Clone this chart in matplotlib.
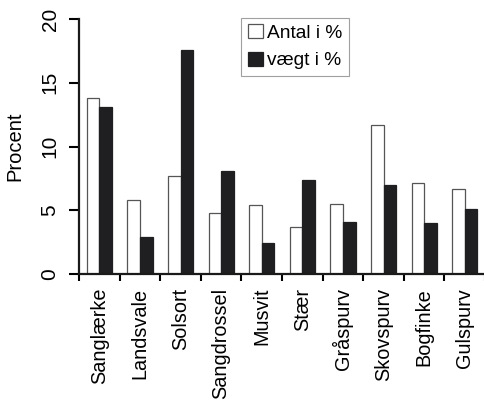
import matplotlib
matplotlib.use("Agg")
import matplotlib.pyplot as plt
import numpy as np

plt.rcParams['font.family'] = ['Liberation Sans', 'DejaVu Sans']

categories = ["Sanglærke", "Landsvale", "Solsort", "Sangdrossel", "Musvit",
              "Stær", "Gråspurv", "Skovspurv", "Bogfinke", "Gulspurv"]
antal = [13.8, 5.8, 7.7, 4.8, 5.4, 3.7, 5.5, 11.7, 7.1, 6.7]
vaegt = [13.1, 2.9, 17.6, 8.1, 2.4, 7.4, 4.1, 7.0, 4.0, 5.1]
yticks = [0, 5, 10, 15, 20]

fig = plt.figure(figsize=(4.85, 4.0), dpi=100)
ax = fig.add_axes([0.163, 0.315, 0.837, 0.6375])

x = np.arange(len(categories))
w = 0.31
ax.bar(x - w/2, antal, w, color='white', edgecolor='#555555', linewidth=0.9, label='Antal i %')
ax.bar(x + w/2, vaegt, w, color='#1f1f22', edgecolor='#1f1f22', linewidth=0.9, label='vægt i %')

ax.set_xlim(-0.5, len(categories) - 0.5)
ax.set_ylim(0, 20)
for s in ['top', 'right']:
    ax.spines[s].set_visible(False)
for s in ['left', 'bottom']:
    ax.spines[s].set_linewidth(1.6)
    ax.spines[s].set_color('#1a1a1a')

ax.set_yticks(yticks)
ax.set_yticklabels([str(v) for v in yticks], rotation=90, va='center', fontsize=15)
ax.tick_params(axis='y', length=7, width=1.5, pad=7)

ax.set_xticks(np.arange(-0.5, len(categories), 1.0))
ax.set_xticklabels([])
ax.tick_params(axis='x', which='major', length=5, width=1.5)
ax.set_xticks(x, minor=True)
ax.set_xticklabels(categories, minor=True, rotation=90, fontsize=14.3)
ax.tick_params(axis='x', which='minor', length=0, pad=10)

ax.set_ylabel('Procent', fontsize=14.5, labelpad=12)

leg = ax.legend(loc='upper left', bbox_to_anchor=(0.40, 1.005), fontsize=13.8,
                frameon=True, fancybox=False, edgecolor='#888888',
                handlelength=0.75, handleheight=0.75, handletextpad=0.25,
                borderpad=0.35, labelspacing=0.5, borderaxespad=0)
leg.get_frame().set_linewidth(0.8)

fig.savefig('out.png', dpi=100)
